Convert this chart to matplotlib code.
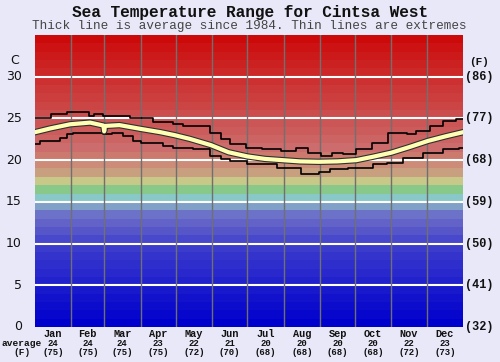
import matplotlib
matplotlib.use("Agg")
import matplotlib.pyplot as plt
import matplotlib.patheffects as pe
import matplotlib.transforms as mtrans
import numpy as np

# ---------------- data ----------------
months = ["Jan", "Feb", "Mar", "Apr", "May", "Jun",
          "Jul", "Aug", "Sep", "Oct", "Nov", "Dec"]
month_days = [31, 28, 31, 30, 31, 30, 31, 31, 30, 31, 30, 31]
month_avg_c = [24, 24, 24, 23, 22, 21, 20, 20, 20, 20, 22, 23]
month_avg_f = [75, 75, 75, 75, 72, 70, 68, 68, 68, 68, 72, 73]

avg_days = [0, 13, 30, 47, 58.3, 59, 59.7, 72, 90, 107, 119, 132, 150, 165, 181,
            196, 211, 226, 242, 258, 274, 288, 304, 320, 335, 350, 365]
avg_temp = [23.35, 23.8, 24.3, 24.5, 24.15, 23.45, 24.1, 24.2, 23.75, 23.35, 23.0,
            22.55, 21.8, 20.95, 20.45, 20.15, 20.0, 19.85, 19.8, 19.85, 20.0,
            20.4, 20.9, 21.6, 22.3, 22.85, 23.35]

max_days = [0, 14, 27, 46, 50, 58, 81, 101, 118, 126, 149, 159, 166, 180, 194,
            210, 223, 233, 244, 253, 263, 274, 287, 301, 317, 325, 337, 348, 359, 365]
max_temp = [25.0, 25.5, 25.8, 25.3, 25.5, 25.3, 25.0, 24.6, 24.3, 24.1, 23.3,
            22.5, 21.9, 21.4, 21.3, 21.1, 21.5, 20.9, 20.5, 20.9, 20.7, 21.3,
            22.1, 23.3, 23.1, 23.5, 24.1, 24.7, 24.9, 24.9]

min_days = [0, 4, 21, 27, 32, 58, 66, 75, 84, 90, 109, 118, 135, 149, 159, 166,
            181, 206, 227, 242, 252, 267, 288, 300, 314, 331, 348, 362, 365]
min_temp = [21.9, 22.3, 22.6, 23.1, 23.3, 23.1, 23.3, 22.9, 22.3, 22.1, 21.7,
            21.5, 21.3, 20.5, 20.1, 19.9, 19.5, 19.0, 18.3, 18.6, 18.9, 19.1,
            19.5, 19.7, 20.3, 20.9, 21.3, 21.5, 21.5]

c_ticks = [0, 5, 10, 15, 20, 25, 30]
f_labels = ["(32)", "(41)", "(50)", "(59)", "(68)", "(77)", "(86)"]

# colour of each 1-degree background band, from 0 C upward
band_colors = ["#0000cc", "#0606cc", "#0c0ccc", "#1212cc", "#1818cc",
               "#2222cc", "#2828cc", "#2e2ecc", "#3434cc", "#3c3ccc",
               "#4848cc", "#5656c8", "#6262c8", "#6c72c8", "#80a0c8",
               "#88c8c8", "#88c888", "#c8c888", "#c8a080", "#cc8c78",
               "#cc7a6e", "#cc6c6c", "#cc6464", "#cc5c5c", "#cc5555",
               "#cc4d4d", "#cc4545", "#cc3e3e", "#cc3737", "#cc3030",
               "#cc2828", "#cc2121", "#cc1a1a", "#cc1212", "#cc0a0a"]

# ---------------- figure ----------------
W, H = 500, 362
bg = "#e8e8f8"
fig = plt.figure(figsize=(W / 100, H / 100), dpi=100, facecolor=bg)
L, R, T, B = 35, 463, 35, 327
ax = fig.add_axes([L / W, 1 - B / H, (R - L) / W, (B - T) / H])
ax.set_xlim(0, 365)
ax.set_ylim(0, 35)
ax.axis("off")

for t, col in enumerate(band_colors):
    ax.axhspan(t, t + 1, color=col, lw=0, zorder=0)

for v in c_ticks[1:]:
    ax.axhline(v, color="white", lw=1.5, zorder=1)

bounds = np.cumsum(month_days)
for b in bounds[:-1]:
    ax.axvline(b, color="#707070", lw=1, zorder=1)

ax.step(max_days, max_temp, where="post", color="black", lw=1.2, zorder=3)
ax.step(min_days, min_temp, where="post", color="black", lw=1.2, zorder=3)
ax.plot(avg_days, avg_temp, color="#ffffb4", lw=3, zorder=4,
        path_effects=[pe.Stroke(linewidth=4.6, foreground="#303030"), pe.Normal()])

mono = "Liberation Mono"

def px(x, y):
    return x / W, 1 - y / H

fig.text(*px(250, 12), "Sea Temperature Range for Cintsa West", ha="center", va="center",
         family=mono, weight="bold", fontsize=11.6, color="#111111")
fig.text(*px(249, 26), "Thick line is average since 1984. Thin lines are extremes",
         ha="center", va="center", family=mono, fontsize=9.1, color="#444444")

left_tr = mtrans.blended_transform_factory(fig.transFigure, ax.transData)
for v in c_ticks:
    fig.text(22 / W, v, str(v), transform=left_tr, ha="right", va="center",
             family="DejaVu Sans", fontsize=9, color="#111111")
for v, lab in zip(c_ticks, f_labels):
    fig.text(465 / W, v, lab, transform=left_tr, ha="left", va="center",
             family=mono, weight="bold", fontsize=8.6, color="#111111")
fig.text(*px(15, 61), "C", ha="center", va="center", family="DejaVu Sans",
         fontsize=9, color="#111111")
fig.text(*px(479, 62), "(F)", ha="center", va="center", family=mono,
         weight="bold", fontsize=8, color="#111111")

bot_tr = mtrans.blended_transform_factory(ax.transData, fig.transFigure)
starts = bounds - np.array(month_days)
for m, s, d, c, f in zip(months, starts, month_days, month_avg_c, month_avg_f):
    mid = s + d / 2
    fig.text(mid, 1 - 334 / H, m, transform=bot_tr, ha="center", va="center",
             family=mono, weight="bold", fontsize=7.4, color="#111111")
    fig.text(mid, 1 - 343.5 / H, str(c), transform=bot_tr, ha="center", va="center",
             family=mono, weight="bold", fontsize=6.5, color="#111111")
    fig.text(mid, 1 - 352.5 / H, f"({f})", transform=bot_tr, ha="center", va="center",
             family=mono, weight="bold", fontsize=6.5, color="#111111")
fig.text(*px(22, 343.5), "average", ha="center", va="center", family=mono,
         weight="bold", fontsize=6.8, color="#111111")
fig.text(*px(22, 352.5), "(F)", ha="center", va="center", family=mono,
         weight="bold", fontsize=6.8, color="#111111")

fig.savefig("out.png", dpi=100, facecolor=bg)
